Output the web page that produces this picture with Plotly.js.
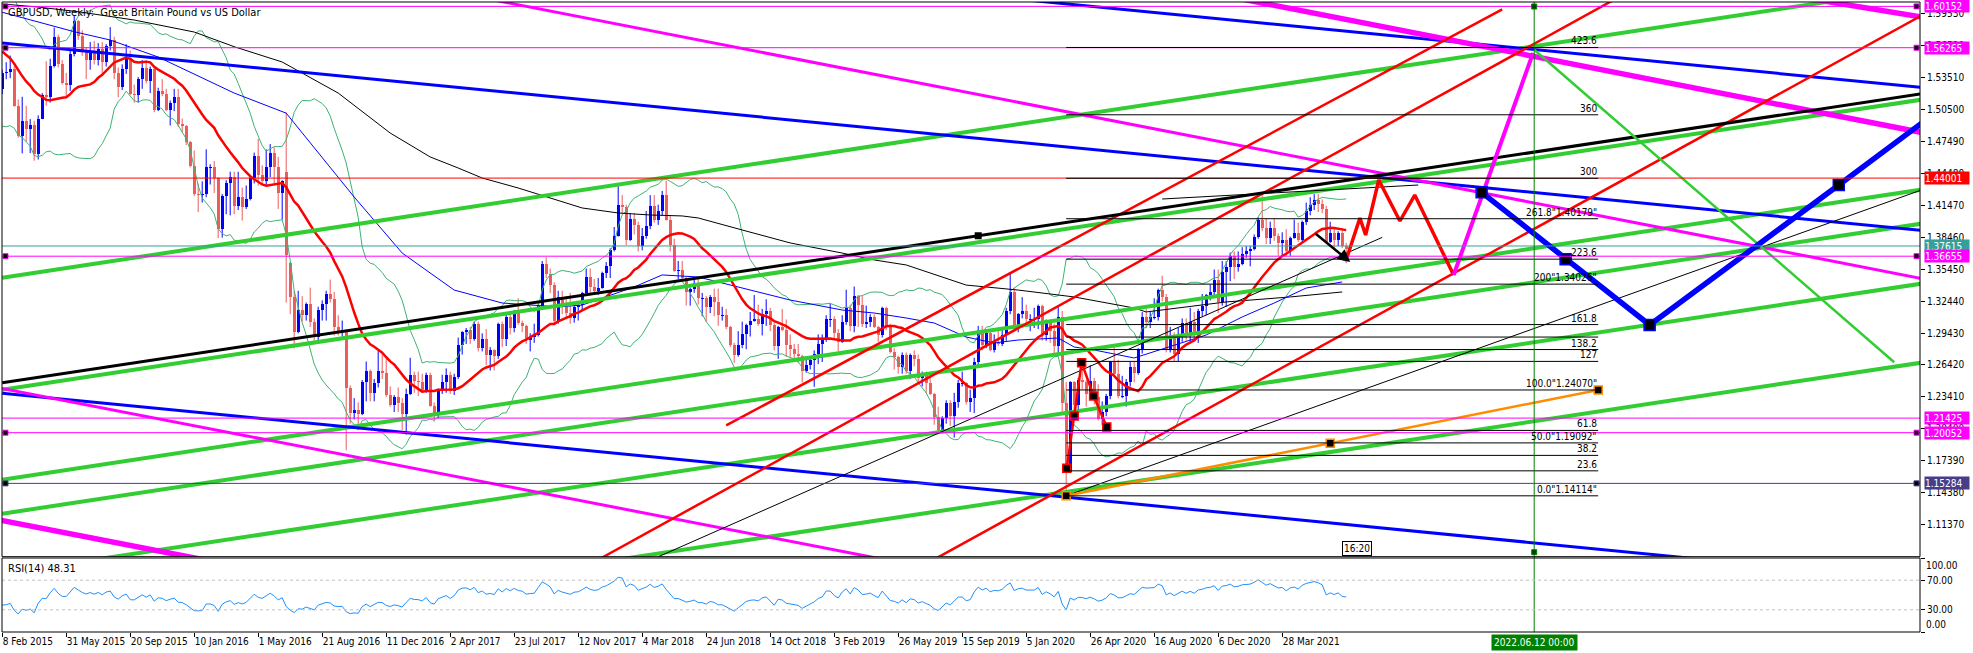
<!DOCTYPE html>
<html><head><meta charset="utf-8">
<script src="https://cdn.plot.ly/plotly-3.0.1.min.js"></script>
<style>html,body{margin:0;padding:0;background:#fff;}#chart{width:1973px;height:653px;}</style>
</head><body><div id="chart"></div>
<script>
// ---------------- DATA ----------------
const firstBar = '2015-02-08';            // first weekly bar (bars are weekly)
const opens = [
1.5240,1.5390,1.5395,1.5430,1.5080,1.4800,1.4940,1.4865,1.4900,1.4625,
1.4960,1.5180,1.5160,1.5450,1.5730,1.5470,1.5290,1.5280,1.5570,1.5880,
1.5740,1.5600,1.5510,1.5600,1.5510,1.5610,1.5490,1.5640,1.5700,1.5390,
1.5260,1.5430,1.5530,1.5190,1.5180,1.5330,1.5440,1.5310,1.5430,1.5040,
1.5220,1.5190,1.5040,1.5110,1.5160,1.4910,1.4890,1.4740,1.4510,1.4250,
1.4240,1.4250,1.4500,1.4500,1.4400,1.3920,1.4230,1.4350,1.4410,1.4140,
1.4220,1.4130,1.4200,1.4400,1.4610,1.4430,1.4370,1.4500,1.4640,1.4500,
1.4260,1.4460,1.3600,1.3280,1.2950,1.3160,1.3110,1.3220,1.3050,1.2910,
1.3160,1.3220,1.3310,1.3260,1.3000,1.2960,1.2970,1.2430,1.2190,1.2220,
1.2180,1.2480,1.2590,1.2380,1.2470,1.2590,1.2570,1.2360,1.2270,1.2340,
1.2280,1.2180,1.2370,1.2550,1.2490,1.2480,1.2410,1.2550,1.2260,1.2170,
1.2400,1.2480,1.2550,1.2400,1.2530,1.2830,1.2950,1.2970,1.2890,1.3030,
1.2800,1.2890,1.2740,1.2780,1.2730,1.3030,1.2890,1.3090,1.2990,1.3130,
1.3040,1.3010,1.2880,1.2910,1.2920,1.3200,1.3590,1.3500,1.3390,1.3060,
1.3280,1.3190,1.3130,1.3080,1.3190,1.3210,1.3320,1.3470,1.3380,1.3340,
1.3370,1.3510,1.3570,1.3720,1.3860,1.4150,1.4130,1.3820,1.4020,1.3960,
1.3760,1.3860,1.3950,1.4140,1.4010,1.4090,1.4240,1.4010,1.3770,1.3530,
1.3540,1.3460,1.3330,1.3360,1.3410,1.3270,1.3270,1.3190,1.3280,1.3230,
1.3110,1.3110,1.3000,1.2830,1.2740,1.2830,1.2930,1.3020,1.3060,1.3070,
1.3030,1.3120,1.3150,1.3020,1.2820,1.3000,1.2970,1.2830,1.2790,1.2750,
1.2730,1.2590,1.2640,1.2690,1.2750,1.2840,1.2880,1.3070,1.3070,1.2940,
1.2860,1.3050,1.3180,1.3010,1.3290,1.3210,1.3030,1.3050,1.3090,1.3000,
1.2920,1.3180,1.3010,1.2760,1.2720,1.2620,1.2740,1.2590,1.2740,1.2700,
1.2520,1.2570,1.2470,1.2370,1.2150,1.2030,1.2140,1.2280,1.2160,1.2290,
1.2470,1.2470,1.2290,1.2330,1.2670,1.2960,1.2830,1.2940,1.2780,1.2860,
1.2840,1.2920,1.3150,1.3330,1.3000,1.3120,1.3150,1.3070,1.3070,1.3070,
1.3200,1.2920,1.3050,1.2960,1.2820,1.3090,1.2280,1.1640,1.2480,1.2270,
1.2500,1.2480,1.2370,1.2490,1.2340,1.2130,1.2200,1.2350,1.2670,1.2560,
1.2350,1.2350,1.2480,1.2620,1.2570,1.2790,1.3090,1.3050,1.3090,1.3090,
1.3350,1.3280,1.2790,1.2910,1.2750,1.2920,1.3040,1.2920,1.3050,1.2940,
1.3150,1.3200,1.3300,1.3330,1.3440,1.3230,1.3520,1.3560,1.3670,1.3560,
1.3590,1.3690,1.3710,1.3730,1.3850,1.4010,1.3930,1.3840,1.3930,1.3860,
1.3790,1.3820,1.3710,1.3840,1.3880,1.3820,1.3990,1.4090,1.4150,1.4190,
1.4160,1.4110,1.3800,1.3880,1.3820,1.3880,1.3760];
const highs = [
1.5420,1.5490,1.5553,1.5450,1.5140,1.5165,1.5080,1.4955,1.4940,1.4990,
1.5200,1.5500,1.5523,1.5815,1.5750,1.5510,1.5390,1.5600,1.5930,1.5890,
1.5790,1.5630,1.5680,1.5690,1.5670,1.5680,1.5660,1.5820,1.5730,1.5440,
1.5470,1.5660,1.5600,1.5280,1.5350,1.5510,1.5510,1.5450,1.5440,1.5250,
1.5330,1.5240,1.5130,1.5240,1.5240,1.4960,1.4900,1.4750,1.4660,1.4350,
1.4370,1.4670,1.4530,1.4560,1.4410,1.4250,1.4380,1.4460,1.4460,1.4460,
1.4310,1.4330,1.4420,1.4640,1.4770,1.4520,1.4670,1.4720,1.4690,1.4600,
1.4380,1.5018,1.3610,1.3340,1.3340,1.3290,1.3230,1.3370,1.3080,1.3190,
1.3250,1.3340,1.3445,1.3330,1.3110,1.3060,1.2980,1.2450,1.2330,1.2290,
1.2500,1.2675,1.2600,1.2510,1.2775,1.2740,1.2700,1.2440,1.2360,1.2430,
1.2330,1.2420,1.2710,1.2580,1.2580,1.2560,1.2570,1.2570,1.2290,1.2420,
1.2550,1.2610,1.2580,1.2560,1.2900,1.2960,1.2990,1.3000,1.3050,1.3050,
1.2940,1.2980,1.2810,1.2790,1.3040,1.3050,1.3120,1.3130,1.3160,1.3270,
1.3060,1.3020,1.2940,1.3030,1.3230,1.3620,1.3657,1.3550,1.3420,1.3340,
1.3340,1.3290,1.3320,1.3220,1.3230,1.3330,1.3550,1.3550,1.3450,1.3460,
1.3520,1.3610,1.3740,1.3940,1.4345,1.4240,1.4150,1.4070,1.4070,1.3990,
1.3930,1.4090,1.4240,1.4240,1.4150,1.4280,1.4377,1.4050,1.3830,1.3620,
1.3620,1.3470,1.3370,1.3470,1.3470,1.3320,1.3290,1.3300,1.3360,1.3360,
1.3190,1.3170,1.3010,1.2850,1.2960,1.3050,1.3030,1.3140,1.3300,1.3210,
1.3170,1.3260,1.3180,1.3040,1.3010,1.3170,1.3070,1.2930,1.2840,1.2840,
1.2740,1.2700,1.2700,1.2780,1.2930,1.2930,1.3110,1.3220,1.3100,1.2980,
1.3110,1.3350,1.3210,1.3380,1.3300,1.3290,1.3200,1.3120,1.3120,1.3010,
1.3190,1.3190,1.3030,1.2800,1.2730,1.2760,1.2760,1.2750,1.2780,1.2740,
1.2580,1.2580,1.2520,1.2380,1.2250,1.2160,1.2310,1.2310,1.2380,1.2500,
1.2580,1.2480,1.2410,1.2710,1.3010,1.3010,1.2960,1.2980,1.2930,1.2990,
1.2980,1.3180,1.3515,1.3370,1.3130,1.3280,1.3210,1.3120,1.3180,1.3210,
1.3210,1.3070,1.3070,1.3030,1.3200,1.3150,1.2480,1.2490,1.2490,1.2520,
1.2650,1.2500,1.2640,1.2520,1.2460,1.2300,1.2370,1.2680,1.2813,1.2690,
1.2540,1.2510,1.2670,1.2670,1.2800,1.3140,1.3170,1.3140,1.3270,1.3360,
1.3482,1.3310,1.3000,1.2950,1.2990,1.3080,1.3080,1.3180,1.3140,1.3170,
1.3310,1.3310,1.3400,1.3540,1.3540,1.3620,1.3620,1.3700,1.3710,1.3710,
1.3750,1.3760,1.3760,1.3870,1.4030,1.4240,1.4020,1.3990,1.4020,1.3880,
1.3890,1.3920,1.3850,1.4010,1.3980,1.4000,1.4170,1.4220,1.4250,1.4250,
1.4200,1.4140,1.3990,1.3920,1.3900,1.3910,1.3790];
const lows = [
1.5190,1.5330,1.5340,1.5070,1.4780,1.4633,1.4740,1.4635,1.4563,1.4575,
1.4955,1.5080,1.5110,1.5440,1.5440,1.5280,1.5170,1.5220,1.5545,1.5700,
1.5550,1.5330,1.5420,1.5470,1.5460,1.5380,1.5450,1.5600,1.5330,1.5160,
1.5230,1.5380,1.5180,1.5110,1.5110,1.5240,1.5290,1.5200,1.5020,1.5030,
1.5170,1.5030,1.4895,1.5030,1.4880,1.4830,1.4710,1.4500,1.4230,1.4080,
1.4170,1.4220,1.4340,1.4260,1.3835,1.3840,1.4060,1.4050,1.4060,1.4100,
1.4000,1.4110,1.4190,1.4350,1.4330,1.4350,1.4330,1.4410,1.4350,1.4110,
1.4010,1.3229,1.3120,1.2798,1.2940,1.3050,1.3060,1.3000,1.2870,1.2860,
1.3060,1.3060,1.3230,1.2920,1.2920,1.2910,1.1841,1.2090,1.2130,1.2080,
1.2170,1.2300,1.2300,1.2300,1.2430,1.2510,1.2340,1.2250,1.2200,1.2200,
1.2030,1.1986,1.2360,1.2380,1.2350,1.2380,1.2380,1.2250,1.2110,1.2140,
1.2370,1.2380,1.2370,1.2360,1.2510,1.2740,1.2840,1.2840,1.2870,1.2770,
1.2770,1.2640,1.2590,1.2590,1.2700,1.2810,1.2820,1.2930,1.2950,1.3020,
1.2950,1.2840,1.2770,1.2850,1.2910,1.3160,1.3460,1.3320,1.3030,1.3030,
1.3120,1.3080,1.3030,1.3040,1.3060,1.3160,1.3290,1.3300,1.3310,1.3300,
1.3360,1.3460,1.3460,1.3710,1.3850,1.4070,1.3770,1.3810,1.3870,1.3710,
1.3720,1.3830,1.3920,1.3980,1.3960,1.4050,1.4000,1.3710,1.3520,1.3450,
1.3450,1.3200,1.3200,1.3320,1.3210,1.3100,1.3050,1.3130,1.3100,1.3010,
1.3060,1.2980,1.2810,1.2662,1.2720,1.2800,1.2790,1.2910,1.3050,1.3010,
1.2920,1.3010,1.2960,1.2780,1.2700,1.2960,1.2720,1.2720,1.2700,1.2660,
1.2477,1.2570,1.2600,1.2437,1.2650,1.2670,1.2860,1.3000,1.2890,1.2770,
1.2850,1.3020,1.2960,1.2950,1.3000,1.3000,1.2990,1.3000,1.2990,1.2860,
1.2900,1.2970,1.2750,1.2600,1.2560,1.2560,1.2560,1.2510,1.2630,1.2480,
1.2440,1.2380,1.2360,1.2080,1.2020,1.2010,1.2090,1.2070,1.1959,1.2240,
1.2440,1.2270,1.2200,1.2190,1.2640,1.2780,1.2800,1.2770,1.2760,1.2820,
1.2820,1.2870,1.3120,1.2980,1.2950,1.3080,1.3010,1.2960,1.2990,1.2980,
1.2870,1.2870,1.2850,1.2730,1.2730,1.2200,1.1411,1.1630,1.2170,1.2160,
1.2410,1.2250,1.2350,1.2270,1.2120,1.2075,1.2160,1.2320,1.2540,1.2330,
1.2330,1.2250,1.2440,1.2480,1.2550,1.2750,1.2990,1.2990,1.3070,1.3060,
1.3240,1.2760,1.2760,1.2676,1.2680,1.2860,1.2870,1.2860,1.2880,1.2850,
1.3100,1.3110,1.3250,1.3280,1.3130,1.3200,1.3190,1.3430,1.3450,1.3520,
1.3580,1.3650,1.3570,1.3720,1.3830,1.3900,1.3780,1.3780,1.3810,1.3670,
1.3670,1.3670,1.3670,1.3830,1.3800,1.3800,1.3960,1.4050,1.4100,1.4080,
1.4070,1.3790,1.3790,1.3730,1.3760,1.3740,1.3600];
const closes = [
1.5390,1.5395,1.5430,1.5080,1.4800,1.4940,1.4865,1.4900,1.4625,1.4960,
1.5180,1.5160,1.5450,1.5730,1.5470,1.5290,1.5280,1.5570,1.5880,1.5740,
1.5600,1.5510,1.5600,1.5510,1.5610,1.5490,1.5640,1.5700,1.5390,1.5260,
1.5430,1.5530,1.5190,1.5180,1.5330,1.5440,1.5310,1.5430,1.5040,1.5220,
1.5190,1.5040,1.5110,1.5160,1.4910,1.4890,1.4740,1.4510,1.4250,1.4240,
1.4250,1.4500,1.4500,1.4400,1.3920,1.4230,1.4350,1.4410,1.4140,1.4220,
1.4130,1.4200,1.4400,1.4610,1.4430,1.4370,1.4500,1.4640,1.4500,1.4260,
1.4370,1.3680,1.3280,1.2950,1.3160,1.3110,1.3220,1.3050,1.2910,1.3160,
1.3220,1.3310,1.3260,1.3000,1.2960,1.2970,1.2430,1.2190,1.2220,1.2180,
1.2480,1.2590,1.2380,1.2470,1.2590,1.2570,1.2360,1.2270,1.2340,1.2280,
1.2180,1.2370,1.2550,1.2490,1.2480,1.2410,1.2550,1.2260,1.2170,1.2400,
1.2480,1.2550,1.2400,1.2530,1.2830,1.2950,1.2970,1.2890,1.3030,1.2800,
1.2890,1.2740,1.2780,1.2730,1.3030,1.2890,1.3090,1.2990,1.3130,1.3040,
1.3010,1.2880,1.2910,1.2920,1.3200,1.3590,1.3500,1.3390,1.3060,1.3280,
1.3190,1.3130,1.3080,1.3190,1.3210,1.3320,1.3470,1.3380,1.3340,1.3370,
1.3510,1.3570,1.3720,1.3860,1.4150,1.4130,1.3820,1.4020,1.3960,1.3760,
1.3860,1.3950,1.4140,1.4010,1.4090,1.4240,1.4010,1.3770,1.3530,1.3540,
1.3460,1.3330,1.3360,1.3410,1.3270,1.3270,1.3190,1.3280,1.3230,1.3110,
1.3110,1.3000,1.2830,1.2740,1.2830,1.2930,1.3020,1.3060,1.3070,1.3030,
1.3120,1.3150,1.3020,1.2820,1.3000,1.2970,1.2830,1.2790,1.2750,1.2730,
1.2590,1.2640,1.2690,1.2750,1.2840,1.2880,1.3070,1.3070,1.2940,1.2860,
1.3050,1.3180,1.3010,1.3290,1.3210,1.3030,1.3050,1.3090,1.3000,1.2920,
1.3180,1.3010,1.2760,1.2720,1.2620,1.2740,1.2590,1.2740,1.2700,1.2520,
1.2570,1.2470,1.2370,1.2150,1.2030,1.2140,1.2280,1.2160,1.2290,1.2470,
1.2470,1.2290,1.2330,1.2670,1.2960,1.2830,1.2940,1.2780,1.2860,1.2840,
1.2920,1.3150,1.3330,1.3000,1.3120,1.3150,1.3070,1.3070,1.3070,1.3200,
1.2920,1.3050,1.2960,1.2820,1.3090,1.2280,1.1640,1.2480,1.2270,1.2500,
1.2480,1.2370,1.2490,1.2340,1.2130,1.2200,1.2350,1.2670,1.2560,1.2350,
1.2350,1.2480,1.2620,1.2570,1.2790,1.3090,1.3050,1.3090,1.3090,1.3350,
1.3280,1.2790,1.2910,1.2750,1.2920,1.3040,1.2920,1.3050,1.2940,1.3150,
1.3200,1.3300,1.3330,1.3440,1.3230,1.3520,1.3560,1.3670,1.3560,1.3590,
1.3690,1.3710,1.3730,1.3850,1.4010,1.3930,1.3840,1.3930,1.3860,1.3790,
1.3820,1.3710,1.3840,1.3880,1.3820,1.3990,1.4090,1.4150,1.4190,1.4160,
1.4110,1.3800,1.3880,1.3820,1.3880,1.3760,1.3735];
// weekly closes before the first visible bar (only used to seed SMA20 / Bollinger / RSI)
const warmupCloses = [1.6040,1.6090,1.6090,1.6080,1.5995,1.5860,1.5675,1.5650,1.5640,1.5625,
1.5710,1.5515,1.5550,1.5330,1.5160,1.5165,1.4995,1.5035,1.5240];
const rsiLabel = 'RSI(14) 48.31';

// slower moving averages
const blueMADates = ['2015-02-08','2015-06-14','2015-08-16','2015-11-08','2016-03-20','2016-06-19','2016-10-16','2017-01-08','2017-04-09','2017-07-02','2017-10-08','2017-11-19','2018-02-18','2018-04-08','2018-06-10','2018-09-23','2018-11-18','2019-02-17','2019-04-14','2019-06-09','2019-07-28','2019-09-22','2019-11-10','2019-12-22','2020-03-01','2020-03-29','2020-05-03','2020-07-12','2020-09-06','2020-11-15','2021-01-17','2021-03-14','2021-05-09','2021-07-11'];
const blueMAValues = [1.5960,1.5777,1.5699,1.5539,1.5200,1.5011,1.4222,1.3695,1.3347,1.3225,1.3188,1.3206,1.3376,1.3489,1.3470,1.3329,1.3253,1.3159,1.3131,1.3084,1.3037,1.2905,1.2849,1.2877,1.2896,1.2811,1.2783,1.2708,1.2802,1.2924,1.3094,1.3225,1.3366,1.3423];
const blackMADates = ['2015-02-08','2015-04-12','2015-06-21','2015-09-27','2016-01-10','2016-03-20','2016-06-12','2016-09-18','2016-12-18','2017-02-26','2017-04-16','2017-05-28','2017-07-30','2017-09-24','2017-11-19','2018-01-21','2018-03-18','2018-05-13','2018-06-10','2018-08-26','2018-11-18','2019-02-17','2019-04-14','2019-06-09','2019-09-22','2019-12-22','2020-03-29','2020-07-12','2020-08-02','2020-12-20','2021-04-11','2021-07-11'];
const blackMAValues = [1.6038,1.6009,1.5965,1.5887,1.5774,1.5636,1.5492,1.5200,1.4824,1.4599,1.4495,1.4401,1.4307,1.4213,1.4119,1.4072,1.4053,1.4044,1.4025,1.3912,1.3790,1.3695,1.3630,1.3583,1.3394,1.3347,1.3282,1.3178,1.3141,1.3235,1.3282,1.3329];

// axis ticks
const priceTicks = [1.11370,1.14380,1.17390,1.20400,1.23410,1.26420,1.29430,1.32440,1.35450,1.38460,1.41470,1.44480,1.47490,1.50500,1.53510,1.56520,1.59530];
const dateTicks = ['2015-02-08','2015-05-31','2015-09-20','2016-01-10','2016-05-01','2016-08-21','2016-12-11','2017-04-02','2017-07-23','2017-11-12','2018-03-04','2018-06-24','2018-10-14','2019-02-03','2019-05-26','2019-09-15','2020-01-05','2020-04-26','2020-08-16','2020-12-06','2021-03-28'];
const dateTickLabels = ['8 Feb 2015','31 May 2015','20 Sep 2015','10 Jan 2016','1 May 2016','21 Aug 2016','11 Dec 2016','2 Apr 2017','23 Jul 2017','12 Nov 2017','4 Mar 2018','24 Jun 2018','14 Oct 2018','3 Feb 2019','26 May 2019','15 Sep 2019','5 Jan 2020','26 Apr 2020','16 Aug 2020','6 Dec 2020','28 Mar 2021'];

// horizontal price lines
const hLinePrices = [1.60152,1.56265,1.44001,1.37615,1.36655,1.21425,1.20052,1.15284];
const hLineLabels = ['1.60152','1.56265','1.44001','1.37615','1.36655','1.21425','1.20052','1.15284'];
const hLineHasHandles = [true,true,false,false,true,false,true,true];

// Fibonacci expansion
const fibDates = ['2020-03-15','2022-10-02'];
const fibBase = [1.14114,1.24070];
const fibLevels = [0,23.6,38.2,50,61.8,100,127,138.2,150,161.8,200,223.6,261.8,300,360,423.6];
const fibLabels = ['0.0"1.14114"','23.6','38.2','50.0"1.19092"','61.8','100.0"1.24070"','127','138.2','','161.8','200"1.34026"','223.6','261.8"1.40179"','300','360','423.6'];

// drawn trend lines: [dates], [prices]
const greenChannelDates = ['2015-02-08','2024-04-21'];
const greenChannelStarts = [1.34634,1.24098,1.15633,1.12434,1.06790,0.99359];
const greenChannelEnds = [1.61923,1.51388,1.42922,1.39724,1.34080,1.26649];
const blackTrend = {d:['2015-02-08','2024-04-21'], p:[1.24757,1.51938]};
const blackTrendAnchor = {d:['2019-10-13'], p:[1.38572]};
const blueTrends = [
  {d:['2019-09-15','2024-04-21'], p:[1.61345,1.52522]},
  {d:['2015-02-08','2024-04-21'], p:[1.56717,1.39071]},
  {d:['2015-02-08','2023-07-16'], p:[1.23766,1.07587]}];
const magentaThick = [
  {d:['2020-04-12','2024-04-21'], p:[1.63791,1.48280]},
  {d:['2023-08-20','2024-04-21'], p:[1.61308,1.59135]},
  {d:['2015-01-25','2016-04-03'], p:[1.11942,1.07399]}];
const magentaThin = [
  {d:['2017-01-08','2024-04-21'], p:[1.62427,1.34546]},
  {d:['2015-01-25','2019-07-07'], p:[1.24359,1.07428]}];
const redTrends = [
  {d:['2018-07-29','2022-04-17'], p:[1.20737,1.59869]},
  {d:['2017-12-24','2022-11-13'], p:[1.08311,1.61204]},
  {d:['2019-07-21','2024-05-05'], p:[1.07925,1.59737]}];
const blackThin = [
  {d:['2018-04-01','2021-09-19'], p:[1.08378,1.38422]},
  {d:['2020-03-15','2024-04-21'], p:[1.14114,1.42909]},
  {d:['2020-08-30','2021-11-21'], p:[1.42034,1.43351]}];
const arrowLine = {d:['2021-05-23','2021-07-25'], p:[1.38882,1.36108]};
const greenDown = {d:['2022-06-12','2024-03-03'], p:[1.56078,1.26673]};
const orangeLine = {d:['2020-03-15','2021-06-20','2022-10-02'], p:[1.14114,1.19054,1.24070]};
const wave2020 = {d:['2020-03-16','2020-03-29','2020-04-11','2020-05-02','2020-05-25'], p:[1.16702,1.21622,1.26636,1.23503,1.20587]};
const forecastRed = {d:['2021-07-19','2021-08-11','2021-08-21','2021-09-13','2021-10-20','2021-11-15','2022-01-22'], p:[1.36484,1.40247,1.38648,1.43821,1.39965,1.42410,1.34885]};
const forecastMagenta = {d:['2022-01-22','2022-06-10'], p:[1.34885,1.55767]};
const forecastBlue = {d:['2022-03-12','2022-08-06','2022-12-31','2023-11-27','2024-06-08'], p:[1.42664,1.36362,1.30182,1.43351,1.51139]};
const vLineDate = '2022-06-12';
const vLineLabel = '2022.06.12 00:00';
const timerLabel = {d:'2021-08-06', text:'16:20'};
const titleText = 'GBPUSD, Weekly:\u00a0 Great Britain Pound vs US Dollar';

// ---------------- STYLE / BUILD ----------------
const FONT = "'Liberation Sans Narrow','DejaVu Sans Condensed','Liberation Sans',Arial,sans-serif";
const BULL = '#0000FF', BEAR = '#EE5C5C';
const DAY = 86400000;
const t0 = Date.parse(firstBar + 'T00:00:00Z');
const dates = closes.map((_, i) => new Date(t0 + i * 7 * DAY).toISOString().slice(0, 10));
const xRange = ['2015-02-07 15:36', '2024-04-17 03:36'];
const yRange = [1.08387, 1.60565];

// candle bodies
const bodyBase = [], bodyH = [], bodyCol = [];
closes.forEach((c, i) => {
  const o = opens[i];
  const h = Math.abs(c - o);
  const mh = 0.0009;
  bodyBase.push(h < mh ? Math.min(o, c) - (mh - h) / 2 : Math.min(o, c));
  bodyH.push(Math.max(h, mh));
  bodyCol.push(c >= o ? BULL : BEAR);
});
const wick = {up:{x:[],y:[]}, dn:{x:[],y:[]}};
closes.forEach((c, i) => {
  const k = c >= opens[i] ? wick.up : wick.dn;
  k.x.push(dates[i], dates[i], null); k.y.push(lows[i], highs[i], null);
});

// SMA20 + Bollinger(20,2) + RSI(14)
const allC = warmupCloses.concat(closes);
const W = warmupCloses.length;
const sma = [], bbU = [], bbL = [];
for (let i = 0; i < closes.length; i++) {
  const j = i + W; let s = 0;
  for (let k = j - 19; k <= j; k++) s += allC[k];
  const m = s / 20; let v = 0;
  for (let k = j - 19; k <= j; k++) v += (allC[k] - m) ** 2;
  const sd = Math.sqrt(v / 20);
  sma.push(m); bbU.push(m + 2 * sd); bbL.push(m - 2 * sd);
}
let ag = 0, al = 0; const rsi = new Array(closes.length).fill(null);
for (let k = 1; k <= 14; k++) { const d = allC[k] - allC[k - 1]; if (d > 0) ag += d; else al -= d; }
ag /= 14; al /= 14;
for (let k = 15; k < allC.length; k++) {
  const d = allC[k] - allC[k - 1];
  ag = (ag * 13 + Math.max(d, 0)) / 14; al = (al * 13 + Math.max(-d, 0)) / 14;
  if (k >= W) rsi[k - W] = 100 - 100 / (1 + ag / al);
}

const traces = [];
traces.push({type:'bar', x:dates, y:bodyH, base:bodyBase, width:0.75 * 7 * DAY,
  marker:{color:bodyCol, line:{width:0}}, hoverinfo:'skip', xaxis:'x', yaxis:'y'});
traces.push({type:'scatter', mode:'lines', x:wick.up.x, y:wick.up.y, line:{color:BULL, width:1}, hoverinfo:'skip'});
traces.push({type:'scatter', mode:'lines', x:wick.dn.x, y:wick.dn.y, line:{color:BEAR, width:1}, hoverinfo:'skip'});
function L(d, p, color, width, extra) {
  traces.push(Object.assign({type:'scatter', mode:'lines', x:d, y:p, line:{color:color, width:width}, hoverinfo:'skip', xaxis:'x', yaxis:'y'}, extra || {}));
}
// indicators
L(dates, bbU, '#3CB371', 1); L(dates, bbL, '#3CB371', 1);
L(blackMADates, blackMAValues, '#000000', 1);
L(blueMADates, blueMAValues, '#0000FF', 1);
L(dates, sma, '#FF0000', 2.5);
// drawn objects
greenChannelStarts.forEach((s, i) => L(greenChannelDates, [s, greenChannelEnds[i]], '#32CD32', 4));
blueTrends.forEach(o => L(o.d, o.p, '#0000FF', 3));
magentaThin.forEach(o => L(o.d, o.p, '#FF00FF', 3));
magentaThick.forEach(o => L(o.d, o.p, '#FF00FF', 5.5));
redTrends.forEach(o => L(o.d, o.p, '#FF0000', 2.5));
L(blackTrend.d, blackTrend.p, '#000000', 3);
L(blackTrendAnchor.d, blackTrendAnchor.p, '#000', 1, {mode:'markers', marker:{symbol:'square', size:7, color:'#000'}});
blackThin.forEach(o => L(o.d, o.p, '#000000', 1));
L(greenDown.d, greenDown.p, '#32CD32', 2.5);
L(orangeLine.d, orangeLine.p, '#FF8C00', 2.5, {mode:'lines+markers', marker:{symbol:'square', size:8, color:'#000', line:{color:'#FF8C00', width:1.5}}});
L(wave2020.d, wave2020.p, '#FF0000', 2.5, {mode:'lines+markers', marker:{symbol:'square', size:8, color:'#000', line:{color:'#FF0000', width:1.5}}});
L(forecastRed.d, forecastRed.p, '#FF0000', 3.5);
L(forecastMagenta.d, forecastMagenta.p, '#FF00FF', 4);
L(forecastBlue.d, forecastBlue.p, '#0000FF', 5.5);
L(forecastBlue.d.slice(0, 4), forecastBlue.p.slice(0, 4), '#0000FF', 1, {mode:'markers', marker:{symbol:'square', size:11, color:'#000', line:{color:'#0000FF', width:1.5}}});
// RSI
traces.push({type:'scatter', mode:'lines', x:dates, y:rsi, line:{color:'#1E90FF', width:1}, hoverinfo:'skip', xaxis:'x', yaxis:'y2'});

const hColors = ['#FF00FF','#FF00FF','#FF0000','#33A09A','#FF00FF','#FF00FF','#FF00FF','#483D8B'];
const shapes = [];
hLinePrices.forEach((p, i) => {
  shapes.push({type:'line', xref:'paper', x0:0, x1:1, yref:'y', y0:p, y1:p, line:{color:hColors[i], width:1}});
  if (hLineHasHandles[i]) {
    [[0, 1, 6], [1, -6, -1]].forEach(([a, u, v]) => shapes.push({type:'rect', xref:'paper', xsizemode:'pixel', xanchor:a, x0:u, x1:v,
      yref:'y', ysizemode:'pixel', yanchor:p, y0:-2.5, y1:2.5, fillcolor:'#000', line:{color:hColors[i], width:1}}));
  }
});
fibLevels.forEach(l => {
  const p = fibBase[0] + (fibBase[1] - fibBase[0]) * l / 100;
  shapes.push({type:'line', xref:'x', x0:fibDates[0], x1:fibDates[1], yref:'y', y0:p, y1:p, line:{color:'#000', width:1}});
});
shapes.push({type:'line', xref:'x', x0:vLineDate, x1:vLineDate, yref:'paper', y0:0, y1:1, line:{color:'#008000', width:1}});
[[yRange[1], -7, -2], [yRange[0], 2, 7]].forEach(([a, u, v]) => shapes.push({type:'rect', xref:'x', xsizemode:'pixel', xanchor:vLineDate, x0:-2.5, x1:2.5,
  yref:'y', ysizemode:'pixel', yanchor:a, y0:u, y1:v, fillcolor:'#004000', line:{color:'#008000', width:1}}));
[70, 30].forEach(v => shapes.push({type:'line', xref:'paper', x0:0, x1:1, yref:'y2', y0:v, y1:v, line:{color:'#C0C0C0', width:1, dash:'3px,3px'}}));
shapes.push({type:'rect', xref:'paper', x0:0, x1:1, yref:'y domain', y0:0, y1:1, line:{color:'#000', width:1}});
shapes.push({type:'rect', xref:'paper', x0:0, x1:1, yref:'y2 domain', y0:0, y1:1, line:{color:'#000', width:1}});

const F = (size, color) => ({family:FONT, size:size, color:color || '#000'});
const annotations = [];
annotations.push({xref:'paper', yref:'paper', x:0, y:1, xanchor:'left', yanchor:'top', xshift:4, yshift:-2, text:titleText, showarrow:false, font:F(11)});
annotations.push({xref:'paper', yref:'y2 domain', x:0, y:1, xanchor:'left', yanchor:'top', xshift:4, yshift:-2, text:rsiLabel, showarrow:false, font:F(11)});
annotations.push({xref:'paper', yref:'y2', x:1, y:100, xanchor:'left', yanchor:'top', xshift:4, text:'100.00', showarrow:false, font:F(10)});
annotations.push({xref:'paper', yref:'y2', x:1, y:0, xanchor:'left', yanchor:'bottom', xshift:4, text:'0.00', showarrow:false, font:F(10)});
hLinePrices.forEach((p, i) => annotations.push({xref:'paper', yref:'y', x:1, y:p, xanchor:'left', yanchor:'middle', xshift:4,
  text:hLineLabels[i], showarrow:false, font:F(10, '#fff'), bgcolor:hColors[i], width:44, height:12, align:'left', borderpad:0}));
fibLevels.forEach((l, i) => {
  if (!fibLabels[i]) return;
  const p = fibBase[0] + (fibBase[1] - fibBase[0]) * l / 100;
  annotations.push({xref:'x', yref:'y', x:fibDates[1], y:p, xanchor:'right', yanchor:'bottom', yshift:0, text:fibLabels[i], showarrow:false, font:F(10), borderpad:0});
});
annotations.push({xref:'x', yref:'paper', x:vLineDate, y:0, xanchor:'center', yanchor:'top', yshift:-2, text:vLineLabel, showarrow:false, font:F(10, '#fff'), bgcolor:'#008000', borderpad:2});
annotations.push({xref:'x', yref:'paper', x:timerLabel.d, y:0.1333, xanchor:'center', yanchor:'middle', text:timerLabel.text, showarrow:false, font:F(10), bgcolor:'#fff', bordercolor:'#000', borderwidth:1, borderpad:1});
annotations.push({xref:'x', yref:'y', axref:'x', ayref:'y', x:arrowLine.d[1], y:arrowLine.p[1], ax:arrowLine.d[0], ay:arrowLine.p[0],
  text:'', showarrow:true, arrowhead:2, arrowsize:1, arrowwidth:2.5, arrowcolor:'#000'});

const layout = {
  width:1973, height:653, margin:{l:2, r:53, t:2, b:21},
  paper_bgcolor:'#fff', plot_bgcolor:'#fff', showlegend:false,
  font:F(10), bargap:0,
  xaxis:{type:'date', range:xRange, anchor:'y2', domain:[0, 1], showgrid:false, zeroline:false, showline:false,
    ticks:'outside', ticklen:4, tickcolor:'#000', tickvals:dateTicks, ticktext:dateTickLabels, tickangle:0,
    ticklabelposition:'outside right', tickfont:F(10), automargin:false},
  yaxis:{domain:[0.11952, 1], range:yRange, side:'right', showgrid:false, zeroline:false, showline:false,
    ticks:'outside', ticklen:4, tickcolor:'#000', tickvals:priceTicks, ticktext:priceTicks.map(v => v.toFixed(5)),
    tickfont:F(10), automargin:false},
  yaxis2:{domain:[0, 0.11746], range:[0, 100], side:'right', showgrid:false, zeroline:false, showline:false,
    ticks:'outside', ticklen:4, tickcolor:'#000', tickvals:[100, 70, 30, 0], ticktext:['', '70.00', '30.00', ''],
    tickfont:F(10), automargin:false},
  shapes:shapes, annotations:annotations
};
Plotly.newPlot('chart', traces, layout, {staticPlot:true, displayModeBar:false});
</script>
</body></html>
